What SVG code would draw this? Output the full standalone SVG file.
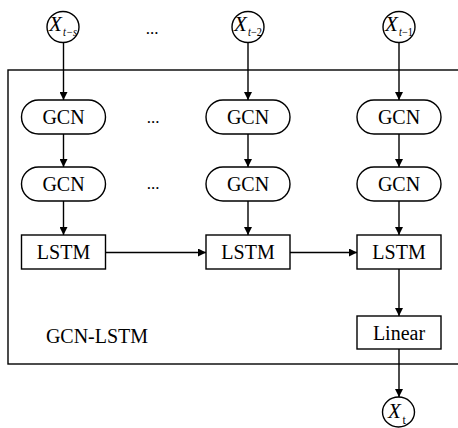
<svg xmlns="http://www.w3.org/2000/svg" width="458" height="428" viewBox="0 0 458 428">
  <style>
    .box { fill: #fff; stroke: #000; stroke-width: 1.4; }
    .frame { fill: none; stroke: #000; stroke-width: 1.4; }
    .lbl { font-family: "Liberation Serif", "Times New Roman", serif; font-size: 20px; fill: #000; text-anchor: middle; }
    .var { font-family: "Liberation Serif", "Times New Roman", serif; font-style: italic; fill: #000; }
    .big { font-size: 21px; }
    .sub { font-size: 12px; }
    .up { font-style: normal; }
    .dots { font-family: "Liberation Serif", serif; font-size: 17px; fill: #000; text-anchor: middle; }
    .edge { stroke: #000; stroke-width: 1.4; fill: none; marker-end: url(#arr); }
  </style>
  <defs>
    <marker id="arr" viewBox="0 0 10 10" refX="10" refY="5" markerWidth="8" markerHeight="8" markerUnits="userSpaceOnUse" orient="auto">
      <path d="M0,0 L10,5 L0,10 Z" fill="#000"/>
    </marker>
  </defs>

  <rect width="458" height="428" fill="#fff"/>

  <!-- enclosing GCN-LSTM block (open to the right) -->
  <g id="gcn-lstm-block">
    <rect class="frame" x="8" y="70" width="470" height="294"/>
    <text class="lbl" x="97" y="343">GCN-LSTM</text>
  </g>

  <!-- connectors -->
  <g id="connectors">
    <line class="edge" x1="63.5" y1="43" x2="63.5" y2="100"/>
    <line class="edge" x1="248" y1="43" x2="248" y2="100"/>
    <line class="edge" x1="399" y1="43" x2="399" y2="100"/>
    <line class="edge" x1="63.5" y1="134" x2="63.5" y2="167"/>
    <line class="edge" x1="248" y1="134" x2="248" y2="167"/>
    <line class="edge" x1="399" y1="134" x2="399" y2="167"/>
    <line class="edge" x1="63.5" y1="201" x2="63.5" y2="235"/>
    <line class="edge" x1="248" y1="201" x2="248" y2="235"/>
    <line class="edge" x1="399" y1="201" x2="399" y2="235"/>
    <line class="edge" x1="106" y1="252.5" x2="206" y2="252.5"/>
    <line class="edge" x1="290" y1="252.5" x2="357" y2="252.5"/>
    <line class="edge" x1="399" y1="269" x2="399" y2="316"/>
    <line class="edge" x1="399" y1="349" x2="399" y2="397"/>
  </g>

  <!-- input nodes -->
  <g id="in-t-s">
    <ellipse class="box" cx="63" cy="27" rx="16" ry="15.5"/>
    <text class="var big" x="49" y="31">X</text>
    <text class="var sub" x="63" y="36" textLength="14" lengthAdjust="spacingAndGlyphs">t−s</text>
  </g>
  <text class="dots" x="152" y="34">...</text>
  <g id="in-t-2">
    <ellipse class="box" cx="248" cy="27" rx="16" ry="15.5"/>
    <text class="var big" x="234" y="31">X</text>
    <text class="var sub" x="248" y="36" textLength="14" lengthAdjust="spacingAndGlyphs">t<tspan class="up">−2</tspan></text>
  </g>
  <g id="in-t-1">
    <ellipse class="box" cx="399" cy="27" rx="16" ry="15.5"/>
    <text class="var big" x="385" y="31">X</text>
    <text class="var sub" x="399" y="36" textLength="14" lengthAdjust="spacingAndGlyphs">t<tspan class="up">−1</tspan></text>
  </g>

  <!-- column 1 -->
  <g id="gcn-1a">
    <rect class="box" x="21.5" y="100" width="84" height="34" rx="17"/>
    <text class="lbl" x="63.5" y="124">GCN</text>
  </g>
  <g id="gcn-1b">
    <rect class="box" x="21.5" y="167" width="84" height="34" rx="17"/>
    <text class="lbl" x="63.5" y="191">GCN</text>
  </g>
  <g id="lstm-1">
    <rect class="box" x="21.5" y="235" width="84" height="34"/>
    <text class="lbl" x="63.5" y="259">LSTM</text>
  </g>

  <text class="dots" x="153" y="123">...</text>
  <text class="dots" x="153" y="189">...</text>

  <!-- column 2 -->
  <g id="gcn-2a">
    <rect class="box" x="206" y="100" width="84" height="34" rx="17"/>
    <text class="lbl" x="248" y="124">GCN</text>
  </g>
  <g id="gcn-2b">
    <rect class="box" x="206" y="167" width="84" height="34" rx="17"/>
    <text class="lbl" x="248" y="191">GCN</text>
  </g>
  <g id="lstm-2">
    <rect class="box" x="206" y="235" width="84" height="34"/>
    <text class="lbl" x="248" y="259">LSTM</text>
  </g>

  <!-- column 3 -->
  <g id="gcn-3a">
    <rect class="box" x="357" y="100" width="84" height="34" rx="17"/>
    <text class="lbl" x="399" y="124">GCN</text>
  </g>
  <g id="gcn-3b">
    <rect class="box" x="357" y="167" width="84" height="34" rx="17"/>
    <text class="lbl" x="399" y="191">GCN</text>
  </g>
  <g id="lstm-3">
    <rect class="box" x="357" y="235" width="84" height="34"/>
    <text class="lbl" x="399" y="259">LSTM</text>
  </g>
  <g id="linear">
    <rect class="box" x="357" y="316" width="84" height="33"/>
    <text class="lbl" x="399" y="339.5">Linear</text>
  </g>

  <!-- output node -->
  <g id="out-t">
    <ellipse class="box" cx="398.5" cy="412" rx="16" ry="15"/>
    <text class="var big" x="388" y="418">X</text>
    <text class="var sub up" x="402.5" y="424">t</text>
  </g>
</svg>
